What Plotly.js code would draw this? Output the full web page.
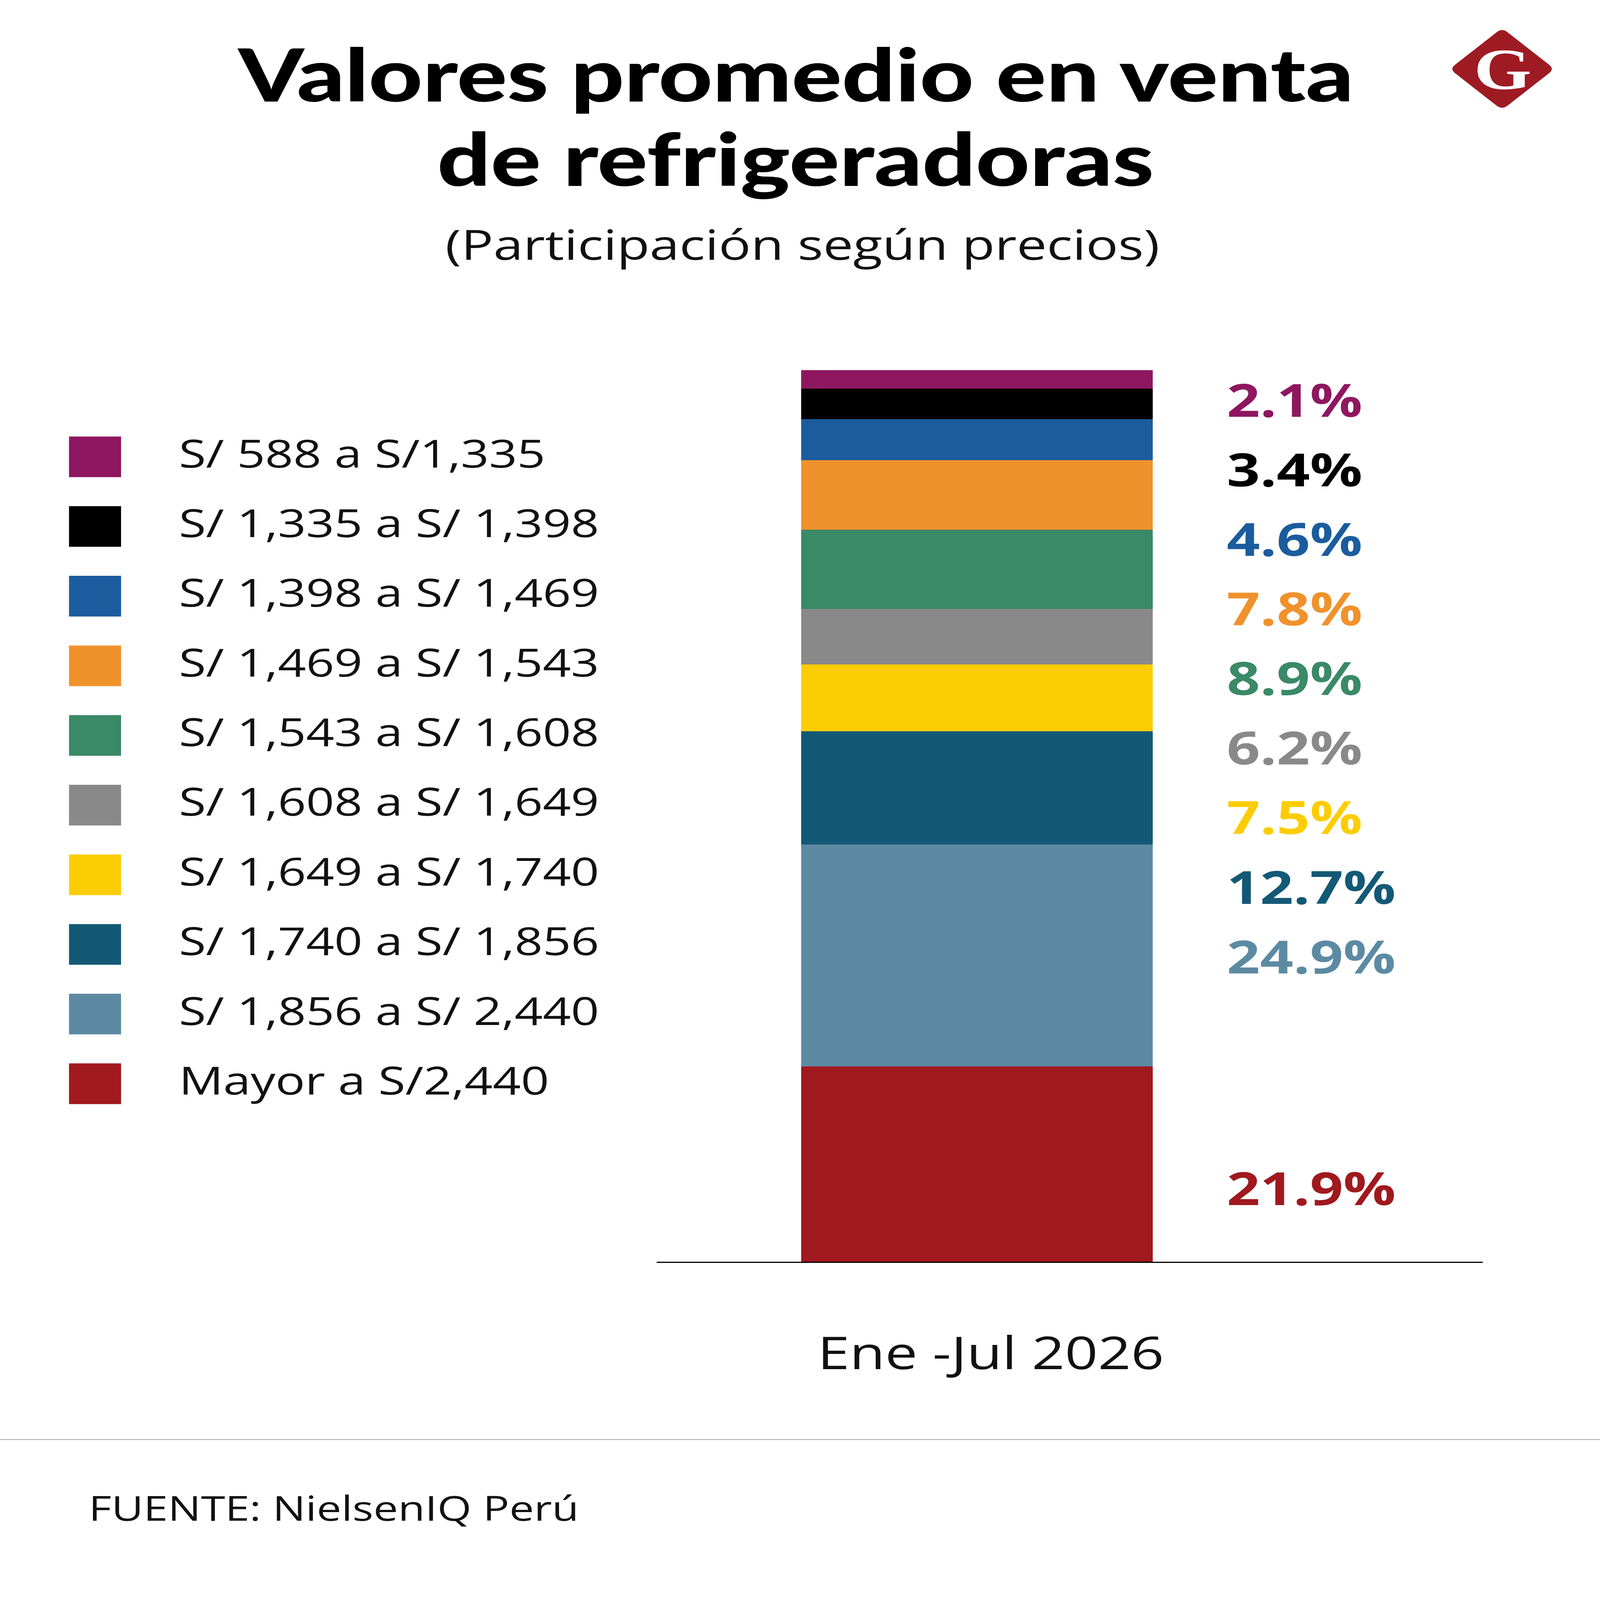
<!DOCTYPE html>
<html>
<head>
<meta charset="utf-8">
<script src="https://cdn.plot.ly/plotly-3.0.1.min.js"></script>
<style>
  html, body { margin: 0; padding: 0; background: #ffffff; overflow: hidden; }
  #chart { width: 4150px; height: 5313px; transform-origin: 0 0; }
</style>
</head>
<body>
<div id="chart"></div>
<script>
// ---- Data ----
const period = ["Ene -Jul 2026"];
const priceRanges = [
  "S/ 588 a S/1,335",
  "S/ 1,335 a S/ 1,398",
  "S/ 1,398 a S/ 1,469",
  "S/ 1,469 a S/ 1,543",
  "S/ 1,543 a S/ 1,608",
  "S/ 1,608 a S/ 1,649",
  "S/ 1,649 a S/ 1,740",
  "S/ 1,740 a S/ 1,856",
  "S/ 1,856 a S/ 2,440",
  "Mayor a S/2,440"
];
const shares = [2.1, 3.4, 4.6, 7.8, 8.9, 6.2, 7.5, 12.7, 24.9, 21.9];
const colors = [
  "#8E1760", "#000000", "#1B5C9E", "#F0922C", "#3A8967",
  "#898989", "#FCCD05", "#135975", "#5C8AA3", "#A0191E"
];
const titleLines = ["Valores promedio en venta", "de refrigeradoras"];
const subtitle = "(Participación según precios)";
const source = "FUENTE: NielsenIQ Perú";

// ---- Page geometry (reference canvas 4150 x 5313) ----
const W = 4150, H = 5313;
const px = x => x / W;
const py = y => 1 - y / H;

// Fit the full canvas into the actual browser window
const chartDiv = document.getElementById("chart");
const sx = (window.innerWidth || W) / W;
const sy = (window.innerHeight || H) / H;
if (Math.abs(sx - 1) > 0.001 || Math.abs(sy - 1) > 0.001) {
  chartDiv.style.transform = "scale(" + sx + "," + sy + ")";
}

// ---- Traces: stacked from bottom (last range) to top (first range) ----
const traces = [];
for (let i = priceRanges.length - 1; i >= 0; i--) {
  traces.push({
    type: "bar",
    x: period,
    y: [shares[i]],
    name: priceRanges[i],
    width: 1,
    marker: { color: colors[i], line: { width: 0 } },
    hoverinfo: "skip"
  });
}

const annotations = [];
const shapes = [];

const titleFont = { family: "Lato, 'Liberation Sans', sans-serif", size: 243, color: "#000000", weight: 900 };
annotations.push({ xref: "paper", yref: "paper", x: px(2063), y: py(243), xanchor: "center", yanchor: "middle",
  showarrow: false, text: titleLines[0], font: titleFont });
annotations.push({ xref: "paper", yref: "paper", x: px(2063), y: py(523), xanchor: "center", yanchor: "middle",
  showarrow: false, text: titleLines[1], font: titleFont });
annotations.push({ xref: "paper", yref: "paper", x: px(2081), y: py(808), xanchor: "center", yanchor: "middle",
  showarrow: false, text: subtitle,
  font: { family: "'Open Sans', sans-serif", size: 139, color: "#111111", weight: 500 } });

// Logo
shapes.push({
  type: "path", xref: "paper", yref: "paper", xsizemode: "pixel", ysizemode: "pixel",
  xanchor: px(3896), yanchor: py(229),
  path: "M -14,122 Q 0,136 14,122 L 122,14 Q 136,0 122,-14 L 14,-122 Q 0,-136 -14,-122 L -122,-14 Q -136,0 -122,14 Z",
  fillcolor: "#9E1B23", line: { width: 0 }
});
annotations.push({ xref: "paper", yref: "paper", x: px(3897), y: py(232), xanchor: "center", yanchor: "middle",
  showarrow: false, text: "G",
  font: { family: "'Liberation Serif', 'DejaVu Serif', serif", size: 192, color: "#ffffff", weight: 700 } });

// Legend
for (let i = 0; i < priceRanges.length; i++) {
  const cy = 1517 + i * 231.3;
  shapes.push({ type: "rect", xref: "paper", yref: "paper",
    x0: px(179), x1: px(314), y0: py(cy + 67.5), y1: py(cy - 67.5),
    fillcolor: colors[i], line: { width: 0 } });
  annotations.push({ xref: "paper", yref: "paper", x: px(462), y: py(cy - 14), xanchor: "left", yanchor: "middle",
    showarrow: false, text: priceRanges[i],
    font: { family: "'Open Sans', sans-serif", size: 128, color: "#111111" } });
}

// Percentage labels
for (let i = 0; i < shares.length; i++) {
  const cy = i < shares.length - 1 ? 1325 + 231 * i : 3943;
  annotations.push({ xref: "paper", yref: "paper", x: px(3180), y: py(cy), xanchor: "left", yanchor: "middle",
    showarrow: false, text: shares[i].toFixed(1) + "%",
    font: { family: "'Open Sans', sans-serif", size: 151, color: colors[i], weight: 700 } });
}

// Separator and source
shapes.push({ type: "line", xref: "paper", yref: "paper", x0: 0, x1: 1, y0: py(4780), y1: py(4780),
  line: { color: "#b0b0b0", width: 3 } });
annotations.push({ xref: "paper", yref: "paper", x: px(228), y: py(5005), xanchor: "left", yanchor: "middle",
  showarrow: false, text: source,
  font: { family: "'Open Sans', sans-serif", size: 114, color: "#111111" } });

const layout = {
  width: W, height: H,
  margin: { l: 0, r: 0, t: 0, b: 0, pad: 0 },
  paper_bgcolor: "#ffffff", plot_bgcolor: "#ffffff",
  barmode: "stack", bargap: 0, showlegend: false,
  xaxis: {
    domain: [px(1703), px(3846)], type: "category", range: [-0.911, 1.439],
    showline: true, linecolor: "#000000", linewidth: 4,
    showgrid: false, zeroline: false,
    ticks: "", ticklabelstandoff: 172, ticklabelshift: 36,
    tickfont: { family: "'Open Sans', sans-serif", size: 150, color: "#111111" },
    fixedrange: true
  },
  yaxis: { domain: [py(4190), py(1229)], range: [0, 100], visible: false, fixedrange: true },
  annotations: annotations,
  shapes: shapes
};

Plotly.newPlot("chart", traces, layout, { displayModeBar: false, staticPlot: true });
</script>
</body>
</html>
